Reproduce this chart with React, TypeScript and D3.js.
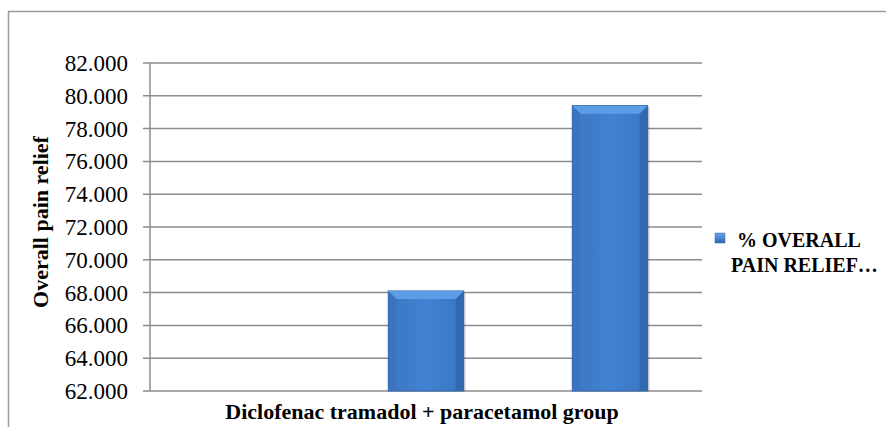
import * as d3 from "d3";
import React, { useEffect, useRef } from "react";

// data
const categories = ["", "Diclofenac tramadol + paracetamol group", " "];
const values: (number | null)[] = [null, 68.1, 79.4];
const seriesName = ["% OVERALL", "PAIN RELIEF…"];
const yTicks = [62, 64, 66, 68, 70, 72, 74, 76, 78, 80, 82];
const yTitle = "Overall pain relief";
const xTitle = "Diclofenac tramadol + paracetamol group";

const W = 886;
const H = 427;
const FONT = "Liberation Serif, Tinos, DejaVu Serif, serif";

export default function App() {
  const svgRef = useRef<SVGSVGElement | null>(null);

  useEffect(() => {
    const svg = d3.select(svgRef.current);
    svg.selectAll("*").remove();

    const margin = { top: 63, right: 184, bottom: 36, left: 150 };
    const width = W - margin.left - margin.right;
    const height = H - margin.top - margin.bottom;

    // outer chart border
    svg
      .append("rect")
      .attr("x", 8.5)
      .attr("y", 11.5)
      .attr("width", W)
      .attr("height", H)
      .attr("fill", "#fff")
      .attr("stroke", "#9a9a9a")
      .attr("stroke-width", 1.5);

    const defs = svg.append("defs");
    const grad = defs
      .append("linearGradient")
      .attr("id", "barGrad")
      .attr("x1", "0")
      .attr("x2", "1")
      .attr("y1", "0")
      .attr("y2", "0");
    grad.append("stop").attr("offset", "0").attr("stop-color", "#3a76c2");
    grad.append("stop").attr("offset", "0.5").attr("stop-color", "#4282d2");
    grad.append("stop").attr("offset", "1").attr("stop-color", "#3a76c2");

    const g = svg
      .append("g")
      .attr("transform", `translate(${margin.left},${margin.top})`);

    const x = d3.scaleBand().domain(categories).range([0, width]).paddingInner(0).paddingOuter(0);
    const y = d3.scaleLinear().domain([62, 82]).range([height, 0]);

    // gridlines
    g.selectAll(".grid")
      .data(yTicks)
      .enter()
      .append("line")
      .attr("x1", -7)
      .attr("x2", width)
      .attr("y1", (d) => y(d))
      .attr("y2", (d) => y(d))
      .attr("stroke", "#8c8c8c")
      .attr("stroke-width", 1.5);

    // y axis line
    g.append("line")
      .attr("x1", 0)
      .attr("x2", 0)
      .attr("y1", y(82))
      .attr("y2", y(62))
      .attr("stroke", "#8c8c8c")
      .attr("stroke-width", 1.5);

    // y tick labels
    g.selectAll(".ytick")
      .data(yTicks)
      .enter()
      .append("text")
      .attr("x", -22)
      .attr("y", (d) => y(d))
      .attr("dy", "0.35em")
      .attr("text-anchor", "end")
      .style("font-family", FONT)
      .attr("font-size", 23)
      .attr("fill", "#000")
      .text((d) => d3.format(".3f")(d));

    // bars
    const barW = x.bandwidth() * 0.41;
    const bev = 8;
    const data = categories
      .map((c, i) => ({ c, v: values[i] }))
      .filter((d) => d.v != null) as { c: string; v: number }[];

    const bars = g
      .selectAll(".bar")
      .data(data)
      .enter()
      .append("g")
      .attr("transform", (d) => `translate(${x(d.c)! + (x.bandwidth() - barW) / 2},0)`);

    bars
      .append("rect")
      .attr("x", 2)
      .attr("y", (d) => y(d.v) + 2)
      .attr("width", barW)
      .attr("height", (d) => height - y(d.v) - 2)
      .attr("fill", "#000")
      .attr("opacity", 0.12);

    bars
      .append("rect")
      .attr("x", 0)
      .attr("y", (d) => y(d.v))
      .attr("width", barW)
      .attr("height", (d) => height - y(d.v))
      .attr("fill", "url(#barGrad)")
      .attr("stroke", "#2f64a8")
      .attr("stroke-width", 1);

    // bevel: top (light), left, right (dark)
    bars
      .append("polygon")
      .attr("points", (d) => {
        const t = y(d.v);
        return `0,${t} ${barW},${t} ${barW - bev},${t + bev} ${bev},${t + bev}`;
      })
      .attr("fill", "#5d9de6");
    bars
      .append("polygon")
      .attr("points", (d) => {
        const t = y(d.v);
        return `0,${t} ${bev},${t + bev} ${bev},${height} 0,${height}`;
      })
      .attr("fill", "#3a74bf");
    bars
      .append("polygon")
      .attr("points", (d) => {
        const t = y(d.v);
        return `${barW},${t} ${barW - bev},${t + bev} ${barW - bev},${height} ${barW},${height}`;
      })
      .attr("fill", "#3268ae");

    // x title
    g.append("text")
      .attr("x", x(categories[1])! + x.bandwidth() / 2 - 4)
      .attr("y", height + 28)
      .attr("text-anchor", "middle")
      .style("font-family", FONT)
      .attr("font-weight", "bold")
      .attr("font-size", 22)
      .attr("fill", "#000")
      .text(xTitle);

    // y title
    svg
      .append("text")
      .attr("transform", `translate(48,${margin.top + height / 2 - 5}) rotate(-90)`)
      .attr("text-anchor", "middle")
      .style("font-family", FONT)
      .attr("font-weight", "bold")
      .attr("font-size", 22)
      .attr("fill", "#000")
      .text(yTitle);

    // legend
    const lg = svg.append("g").attr("transform", "translate(715,233)");
    const lgGrad = defs
      .append("linearGradient")
      .attr("id", "lgGrad")
      .attr("x1", "0")
      .attr("x2", "0")
      .attr("y1", "0")
      .attr("y2", "1");
    lgGrad.append("stop").attr("offset", "0").attr("stop-color", "#6aa6ea");
    lgGrad.append("stop").attr("offset", "1").attr("stop-color", "#2f66b0");
    lg.append("rect")
      .attr("width", 10)
      .attr("height", 10)
      .attr("fill", "url(#lgGrad)")
      .attr("stroke", "#2f64a8")
      .attr("stroke-width", 0.5);
    lg.selectAll(".lt")
      .data(seriesName)
      .enter()
      .append("text")
      .attr("x", (d, i) => (i === 0 ? 22 : 16))
      .attr("y", (d, i) => 14 + i * 25)
      .style("font-family", FONT)
      .attr("font-weight", "bold")
      .attr("font-size", 20)
      .attr("fill", "#000")
      .text((d) => d);
  }, []);

  return (
    <svg
      ref={svgRef}
      width={W}
      height={H}
      style={{ position: "absolute", left: 0, top: 0, background: "#fff" }}
    />
  );
}
